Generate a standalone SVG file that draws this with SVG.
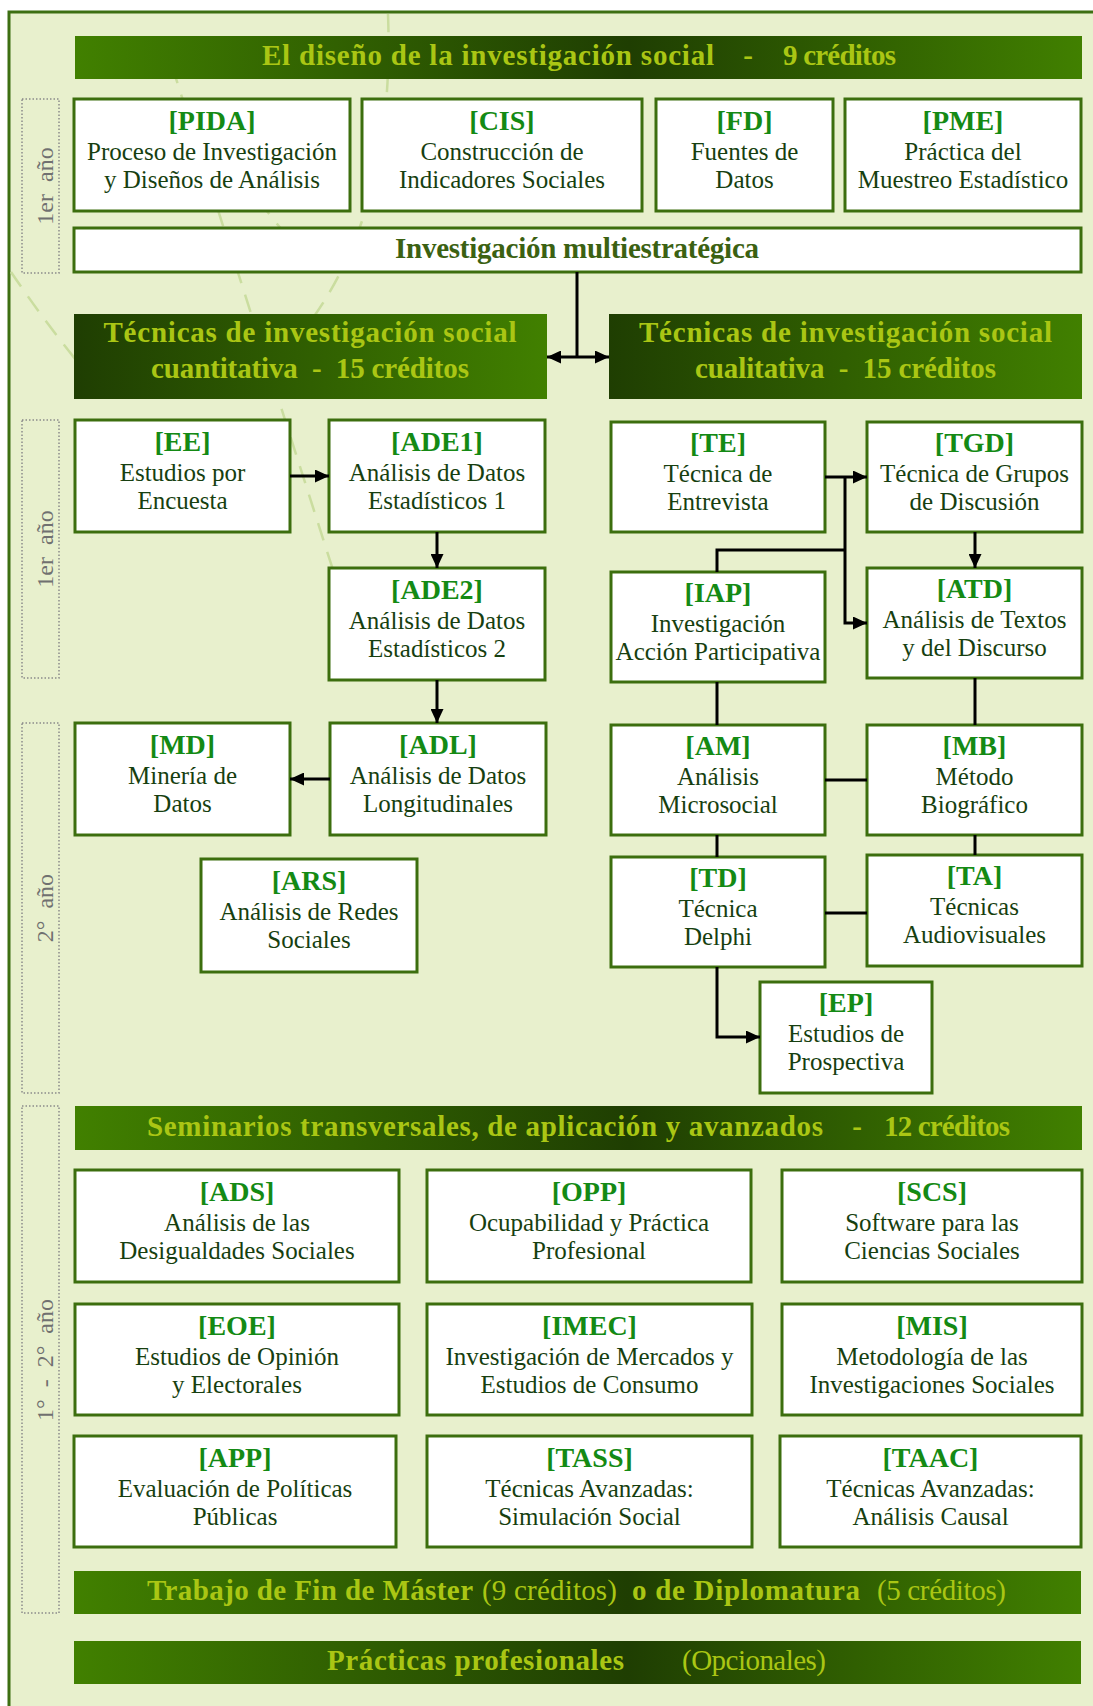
<svg xmlns="http://www.w3.org/2000/svg" width="1093" height="1706" viewBox="0 0 1093 1706">
<defs>
  <linearGradient id="gBar" x1="0" y1="0" x2="1" y2="0">
    <stop offset="0" stop-color="#418000"/>
    <stop offset="0.55" stop-color="#1f3e02"/>
    <stop offset="1" stop-color="#418000"/>
  </linearGradient>
  <linearGradient id="gSec" x1="0" y1="0" x2="1" y2="0">
    <stop offset="0" stop-color="#1f3e02"/>
    <stop offset="1" stop-color="#418000"/>
  </linearGradient>
  <marker id="arr" markerUnits="userSpaceOnUse" viewBox="0 0 14 13" refX="14" refY="6.5" markerWidth="14" markerHeight="13" orient="auto-start-reverse">
    <path d="M0,0 L14,6.5 L0,13 z" fill="#000"/>
  </marker>
</defs>
<style>
  text { font-family: "Liberation Serif", "Times New Roman", serif; }
  .node rect { fill: #ffffff; stroke: #3c6e0e; stroke-width: 3; }
  .code { font-size: 28px; font-weight: bold; fill: #148a14; text-anchor: middle; }
  .lbl { font-size: 25px; fill: #173f10; text-anchor: middle; }
  .bar text { font-size: 29px; font-weight: bold; fill: #aac614; }
  .bar .n { font-weight: normal; }
  .mid { text-anchor: middle; }
  .conn path { stroke: #000; stroke-width: 3; fill: none; }
  .year rect { fill: none; stroke: #8a8a8a; stroke-width: 1.5; stroke-dasharray: 1.5 2; }
  .year text { font-size: 24px; fill: #707070; text-anchor: middle; }
  .deco path { stroke: #cadd9f; stroke-width: 2.5; fill: none; stroke-dasharray: 18 12; }
</style>

<rect x="0" y="0" width="1093" height="1706" fill="#ffffff"/>
<rect x="9" y="12" width="1100" height="1710" fill="#e8f0cd" stroke="#3d6f12" stroke-width="3"/>

<g class="deco">
  <path d="M388 14 Q395 200 315 315"/>
  <path d="M172 66 L333 570"/>
  <path d="M11 272 Q40 315 76 360"/>
  <path d="M258 200 L290 240"/>
</g>

<g id="years" class="year">
  <g id="year-1a"><rect x="22" y="99" width="37" height="174"/><text xml:space="preserve" transform="translate(53,186) rotate(-90)">1er  año</text></g>
  <g id="year-1b"><rect x="22" y="420" width="37" height="258"/><text xml:space="preserve" transform="translate(53,549) rotate(-90)">1er  año</text></g>
  <g id="year-2"><rect x="22" y="723" width="37" height="370"/><text xml:space="preserve" transform="translate(53,908) rotate(-90)">2°  año</text></g>
  <g id="year-12"><rect x="22" y="1106" width="37" height="507"/><text xml:space="preserve" transform="translate(53,1360) rotate(-90)">1°  -  2°  año</text></g>
</g>

<g id="bar-diseno" class="bar">
  <rect x="75" y="36" width="1007" height="43" fill="url(#gBar)"/>
  <text x="262" y="65" textLength="452" lengthAdjust="spacing">El diseño de la investigación social</text>
  <text x="748" y="65" class="mid">-</text>
  <text x="783" y="65" textLength="113" lengthAdjust="spacing">9 créditos</text>
</g>

<g id="n-PIDA" class="node"><rect x="74" y="99" width="276" height="112"/><text class="code" x="212" y="130">[PIDA]</text><text class="lbl" x="212" y="160">Proceso de Investigación</text><text class="lbl" x="212" y="188">y Diseños de Análisis</text></g>
<g id="n-CIS" class="node"><rect x="362" y="99" width="280" height="112"/><text class="code" x="502" y="130">[CIS]</text><text class="lbl" x="502" y="160">Construcción de</text><text class="lbl" x="502" y="188">Indicadores Sociales</text></g>
<g id="n-FD" class="node"><rect x="656" y="99" width="177" height="112"/><text class="code" x="744.5" y="130">[FD]</text><text class="lbl" x="744.5" y="160">Fuentes de</text><text class="lbl" x="744.5" y="188">Datos</text></g>
<g id="n-PME" class="node"><rect x="845" y="99" width="236" height="112"/><text class="code" x="963" y="130">[PME]</text><text class="lbl" x="963" y="160">Práctica del</text><text class="lbl" x="963" y="188">Muestreo Estadístico</text></g>

<g id="n-MULTI" class="node">
  <rect x="74" y="228" width="1007" height="44"/>
  <text x="577" y="258" text-anchor="middle" font-size="29" font-weight="bold" fill="#3b6112" textLength="364" lengthAdjust="spacing">Investigación multiestratégica</text>
</g>

<g id="sec-cuanti" class="bar">
  <rect x="74" y="314" width="473" height="85" fill="url(#gSec)"/>
  <text x="310" y="342" class="mid" textLength="413" lengthAdjust="spacing">Técnicas de investigación social</text>
  <text x="310" y="378" class="mid" textLength="318" lengthAdjust="spacing" xml:space="preserve">cuantitativa  -  15 créditos</text>
</g>
<g id="sec-cuali" class="bar">
  <rect x="609" y="314" width="473" height="85" fill="url(#gSec)"/>
  <text x="845.5" y="342" class="mid" textLength="413" lengthAdjust="spacing">Técnicas de investigación social</text>
  <text x="845.5" y="378" class="mid" textLength="301" lengthAdjust="spacing" xml:space="preserve">cualitativa  -  15 créditos</text>
</g>

<g id="n-EE" class="node"><rect x="75" y="420" width="215" height="112"/><text class="code" x="182.5" y="451">[EE]</text><text class="lbl" x="182.5" y="481">Estudios por</text><text class="lbl" x="182.5" y="509">Encuesta</text></g>
<g id="n-ADE1" class="node"><rect x="329" y="420" width="216" height="112"/><text class="code" x="437" y="451">[ADE1]</text><text class="lbl" x="437" y="481">Análisis de Datos</text><text class="lbl" x="437" y="509">Estadísticos 1</text></g>
<g id="n-ADE2" class="node"><rect x="329" y="568" width="216" height="112"/><text class="code" x="437" y="599">[ADE2]</text><text class="lbl" x="437" y="629">Análisis de Datos</text><text class="lbl" x="437" y="657">Estadísticos 2</text></g>
<g id="n-ADL" class="node"><rect x="330" y="723" width="216" height="112"/><text class="code" x="438" y="754">[ADL]</text><text class="lbl" x="438" y="784">Análisis de Datos</text><text class="lbl" x="438" y="812">Longitudinales</text></g>
<g id="n-MD" class="node"><rect x="75" y="723" width="215" height="112"/><text class="code" x="182.5" y="754">[MD]</text><text class="lbl" x="182.5" y="784">Minería de</text><text class="lbl" x="182.5" y="812">Datos</text></g>
<g id="n-ARS" class="node"><rect x="201" y="859" width="216" height="113"/><text class="code" x="309" y="890">[ARS]</text><text class="lbl" x="309" y="920">Análisis de Redes</text><text class="lbl" x="309" y="948">Sociales</text></g>

<g id="n-TE" class="node"><rect x="611" y="422" width="214" height="110"/><text class="code" x="718" y="452">[TE]</text><text class="lbl" x="718" y="482">Técnica de</text><text class="lbl" x="718" y="510">Entrevista</text></g>
<g id="n-TGD" class="node"><rect x="867" y="422" width="215" height="110"/><text class="code" x="974.5" y="452">[TGD]</text><text class="lbl" x="974.5" y="482">Técnica de Grupos</text><text class="lbl" x="974.5" y="510">de Discusión</text></g>
<g id="n-IAP" class="node"><rect x="611" y="572" width="214" height="110"/><text class="code" x="718" y="602">[IAP]</text><text class="lbl" x="718" y="632">Investigación</text><text class="lbl" x="718" y="660">Acción Participativa</text></g>
<g id="n-ATD" class="node"><rect x="867" y="568" width="215" height="110"/><text class="code" x="974.5" y="598">[ATD]</text><text class="lbl" x="974.5" y="628">Análisis de Textos</text><text class="lbl" x="974.5" y="656">y del Discurso</text></g>
<g id="n-AM" class="node"><rect x="611" y="725" width="214" height="110"/><text class="code" x="718" y="755">[AM]</text><text class="lbl" x="718" y="785">Análisis</text><text class="lbl" x="718" y="813">Microsocial</text></g>
<g id="n-MB" class="node"><rect x="867" y="725" width="215" height="110"/><text class="code" x="974.5" y="755">[MB]</text><text class="lbl" x="974.5" y="785">Método</text><text class="lbl" x="974.5" y="813">Biográfico</text></g>
<g id="n-TD" class="node"><rect x="611" y="857" width="214" height="110"/><text class="code" x="718" y="887">[TD]</text><text class="lbl" x="718" y="917">Técnica</text><text class="lbl" x="718" y="945">Delphi</text></g>
<g id="n-TA" class="node"><rect x="867" y="855" width="215" height="111"/><text class="code" x="974.5" y="885">[TA]</text><text class="lbl" x="974.5" y="915">Técnicas</text><text class="lbl" x="974.5" y="943">Audiovisuales</text></g>
<g id="n-EP" class="node"><rect x="760" y="982" width="172" height="111"/><text class="code" x="846" y="1012">[EP]</text><text class="lbl" x="846" y="1042">Estudios de</text><text class="lbl" x="846" y="1070">Prospectiva</text></g>

<g id="bar-seminarios" class="bar">
  <rect x="75" y="1106" width="1007" height="44" fill="url(#gBar)"/>
  <text x="147" y="1136" textLength="676" lengthAdjust="spacing">Seminarios transversales, de aplicación y avanzados</text>
  <text x="857" y="1136" class="mid">-</text>
  <text x="884" y="1136" textLength="126" lengthAdjust="spacing">12 créditos</text>
</g>

<g id="n-ADS" class="node"><rect x="75" y="1170" width="324" height="112"/><text class="code" x="237" y="1201">[ADS]</text><text class="lbl" x="237" y="1231">Análisis de las</text><text class="lbl" x="237" y="1259">Desigualdades Sociales</text></g>
<g id="n-OPP" class="node"><rect x="427" y="1170" width="324" height="112"/><text class="code" x="589" y="1201">[OPP]</text><text class="lbl" x="589" y="1231">Ocupabilidad y Práctica</text><text class="lbl" x="589" y="1259">Profesional</text></g>
<g id="n-SCS" class="node"><rect x="782" y="1170" width="300" height="112"/><text class="code" x="932" y="1201">[SCS]</text><text class="lbl" x="932" y="1231">Software para las</text><text class="lbl" x="932" y="1259">Ciencias Sociales</text></g>
<g id="n-EOE" class="node"><rect x="75" y="1304" width="324" height="111"/><text class="code" x="237" y="1335">[EOE]</text><text class="lbl" x="237" y="1365">Estudios de Opinión</text><text class="lbl" x="237" y="1393">y Electorales</text></g>
<g id="n-IMEC" class="node"><rect x="427" y="1304" width="325" height="111"/><text class="code" x="589.5" y="1335">[IMEC]</text><text class="lbl" x="589.5" y="1365">Investigación de Mercados y</text><text class="lbl" x="589.5" y="1393">Estudios de Consumo</text></g>
<g id="n-MIS" class="node"><rect x="782" y="1304" width="300" height="111"/><text class="code" x="932" y="1335">[MIS]</text><text class="lbl" x="932" y="1365">Metodología de las</text><text class="lbl" x="932" y="1393">Investigaciones Sociales</text></g>
<g id="n-APP" class="node"><rect x="74" y="1436" width="322" height="111"/><text class="code" x="235" y="1467">[APP]</text><text class="lbl" x="235" y="1497">Evaluación de Políticas</text><text class="lbl" x="235" y="1525">Públicas</text></g>
<g id="n-TASS" class="node"><rect x="427" y="1436" width="325" height="111"/><text class="code" x="589.5" y="1467">[TASS]</text><text class="lbl" x="589.5" y="1497">Técnicas Avanzadas:</text><text class="lbl" x="589.5" y="1525">Simulación Social</text></g>
<g id="n-TAAC" class="node"><rect x="780" y="1436" width="301" height="111"/><text class="code" x="930.5" y="1467">[TAAC]</text><text class="lbl" x="930.5" y="1497">Técnicas Avanzadas:</text><text class="lbl" x="930.5" y="1525">Análisis Causal</text></g>

<g id="bar-tfm" class="bar">
  <rect x="74" y="1571" width="1007" height="43" fill="url(#gBar)"/>
  <text x="147" y="1600" textLength="326" lengthAdjust="spacing">Trabajo de Fin de Máster</text>
  <text x="482" y="1600" class="n" textLength="135" lengthAdjust="spacing">(9 créditos)</text>
  <text x="632" y="1600" textLength="228" lengthAdjust="spacing">o de Diplomatura</text>
  <text x="877" y="1600" class="n" textLength="129" lengthAdjust="spacing">(5 créditos)</text>
</g>

<g id="bar-practicas" class="bar">
  <rect x="74" y="1641" width="1007" height="43" fill="url(#gBar)"/>
  <text x="327" y="1670" textLength="297" lengthAdjust="spacing">Prácticas profesionales</text>
  <text x="682" y="1670" class="n" textLength="144" lengthAdjust="spacing">(Opcionales)</text>
</g>

<g id="connectors" class="conn">
  <path d="M577 272 V357"/>
  <path d="M547 357 H609" marker-start="url(#arr)" marker-end="url(#arr)"/>
  <path d="M290 476 H329" marker-end="url(#arr)"/>
  <path d="M437 532 V568" marker-end="url(#arr)"/>
  <path d="M437 680 V723" marker-end="url(#arr)"/>
  <path d="M330 779 H290" marker-end="url(#arr)"/>
  <path d="M825 477 H867" marker-end="url(#arr)"/>
  <path d="M845 477 V623 H867" marker-end="url(#arr)"/>
  <path d="M717 572 V550 H845"/>
  <path d="M975 532 V568" marker-end="url(#arr)"/>
  <path d="M717 682 V725"/>
  <path d="M975 678 V725"/>
  <path d="M825 780 H867"/>
  <path d="M717 835 V857"/>
  <path d="M975 835 V855"/>
  <path d="M825 913 H867"/>
  <path d="M717 967 V1037 H760" marker-end="url(#arr)"/>
</g>
</svg>
